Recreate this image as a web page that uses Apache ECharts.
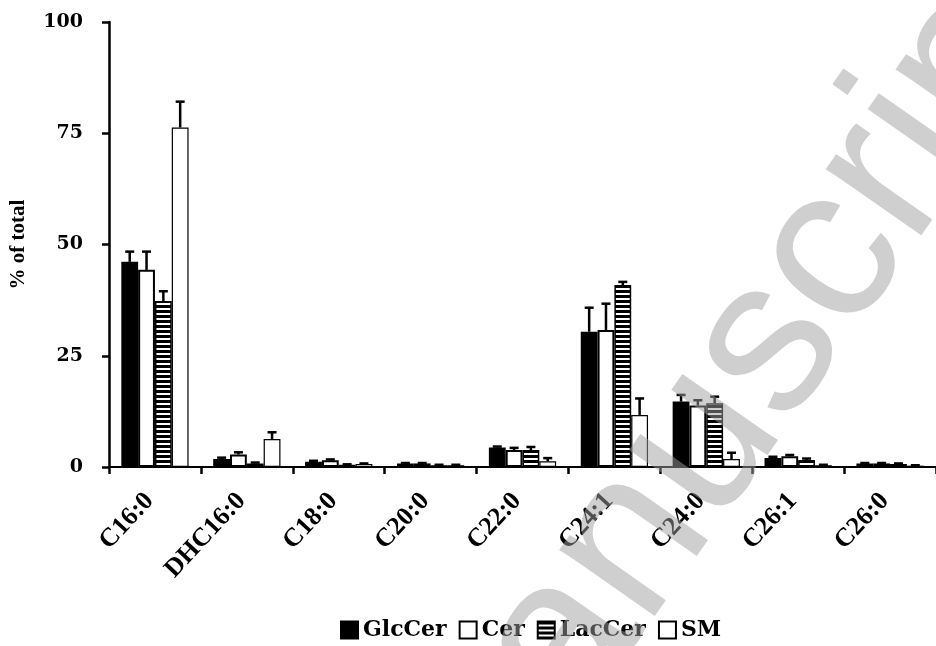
<!DOCTYPE html>
<html><head><meta charset="utf-8">
<script src="https://cdn.jsdelivr.net/npm/echarts@6/dist/echarts.min.js"></script>
<style>html,body{margin:0;padding:0;background:#fff}#c{width:936px;height:646px}</style>
</head><body><div id="c"></div>
<script>
const categories = ['C16:0','DHC16:0','C18:0','C20:0','C22:0','C24:1','C24:0','C26:1','C26:0'];
const seriesNames = ['GlcCer','Cer','LacCer','SM'];
const glcCer    = [46.1, 1.8, 1.2, 0.8, 4.4, 30.4, 14.7, 2.0, 0.8];
const glcCerErr = [2.3, 0.3, 0.2, 0.1, 0.2, 5.4, 1.5, 0.3, 0.1];
const cer       = [44.3, 2.8, 1.5, 0.8, 3.8, 30.8, 13.8, 2.4, 0.8];
const cerErr    = [4.1, 0.5, 0.2, 0.1, 0.5, 5.9, 1.2, 0.3, 0.1];
const lacCer    = [37.3, 0.8, 0.5, 0.4, 3.8, 40.9, 14.3, 1.6, 0.7];
const lacCerErr = [2.2, 0.2, 0.1, 0.1, 0.7, 0.7, 1.5, 0.3, 0.1];
const sm        = [76.3, 6.3, 0.7, 0.4, 1.3, 11.7, 1.8, 0.4, 0.3];
const smErr     = [5.8, 1.5, 0.1, 0.1, 0.7, 3.7, 1.4, 0.1, 0.1];
const yTicks = [0, 25, 50, 75, 100];
const watermark = 'Manuscript';

const FONT = 'Liberation Serif';
const WIDEFONT = 'DejaVu Serif';
function stripes(){
  const c = document.createElement('canvas'); c.width = 4; c.height = 5;
  const g = c.getContext('2d');
  g.fillStyle = '#fff'; g.fillRect(0,0,4,5);
  g.fillStyle = '#000'; g.fillRect(0,0,4,3);
  return c;
}
const fills = ['#000', '#fff', {image: stripes(), repeat: 'repeat'}, '#fff'];
const borderW = [1.5, 2, 1.5, 1.2];
const values = [glcCer, cer, lacCer, sm];
const errs = [glcCerErr, cerErr, lacCerErr, smErr];
const BARFRAC = 0.183;

const series = [];
values.forEach((v, k) => {
  series.push({
    type: 'bar', name: seriesNames[k], data: v,
    barWidth: (BARFRAC*100) + '%', barGap: '0%',
    itemStyle: {color: fills[k], borderColor: '#000', borderWidth: borderW[k]},
    z: 2
  });
});
values.forEach((v, k) => {
  series.push({
    type: 'custom', name: 'err' + k,
    data: v.map((d, i) => [i, d, errs[k][i]]),
    encode: {x: 0, y: 1},
    z: 5, silent: true,
    renderItem: function(params, api){
      const i = api.value(0), val = api.value(1), e = api.value(2);
      const base = api.coord([i, val]);
      const top = api.coord([i, val + e]);
      const band = api.size([1, 0])[0];
      const bw = band * BARFRAC;
      const x = base[0] + (k - 1.5) * bw;
      return {type: 'group', children: [
        {type: 'line', shape: {x1: x, y1: base[1], x2: x, y2: top[1]}, style: {stroke: '#000', lineWidth: 2.5}},
        {type: 'line', shape: {x1: x - 4.5, y1: top[1], x2: x + 4.5, y2: top[1]}, style: {stroke: '#000', lineWidth: 2.5}}
      ]};
    }
  });
});

const chart = echarts.init(document.getElementById('c'), null, {renderer: 'canvas'});
chart.setOption({
  animation: false,
  backgroundColor: '#fff',
  grid: {left: 104, top: 22, width: 835, height: 445},
  legend: {
    data: seriesNames, bottom: 5, left: 340, padding: 0,
    itemWidth: 17, itemHeight: 17, itemGap: 12,
    textStyle: {fontFamily: WIDEFONT, fontWeight: 'bold', fontSize: 22, color: '#000'},
    icon: 'rect'
  },
  xAxis: {
    type: 'category', data: categories,
    axisLine: {lineStyle: {color: '#000', width: 2}},
    axisTick: {show: true, alignWithLabel: false, length: 7, lineStyle: {color: '#000', width: 2.5}},
    axisLabel: {rotate: 47, margin: 24, padding: [0, 8, 0, 0], fontFamily: FONT, fontWeight: 'bold', fontSize: 26, color: '#000', interval: 0}
  },
  yAxis: {
    type: 'value', min: yTicks[0], max: yTicks[yTicks.length-1], interval: 25,
    name: '% of total', nameLocation: 'middle', nameGap: 80, nameRotate: 90,
    nameTextStyle: {fontFamily: FONT, fontWeight: 'bold', fontSize: 21, color: '#000'},
    axisLine: {show: true, lineStyle: {color: '#000', width: 2.5}},
    axisTick: {show: true, length: 7, lineStyle: {color: '#000', width: 2.5}},
    splitLine: {show: false},
    axisLabel: {margin: 26, fontFamily: WIDEFONT, fontWeight: 'bold', fontSize: 19, color: '#000'}
  },
  graphic: [{
    type: 'text', x: 421, y: 844, rotation: 55 * Math.PI / 180, z: 100, silent: true,
    style: {text: watermark, font: '220px "Liberation Sans"', fill: 'rgba(160,160,160,0.5)', textAlign: 'left', textVerticalAlign: 'middle'}
  }],
  series: series
});
</script></body></html>
